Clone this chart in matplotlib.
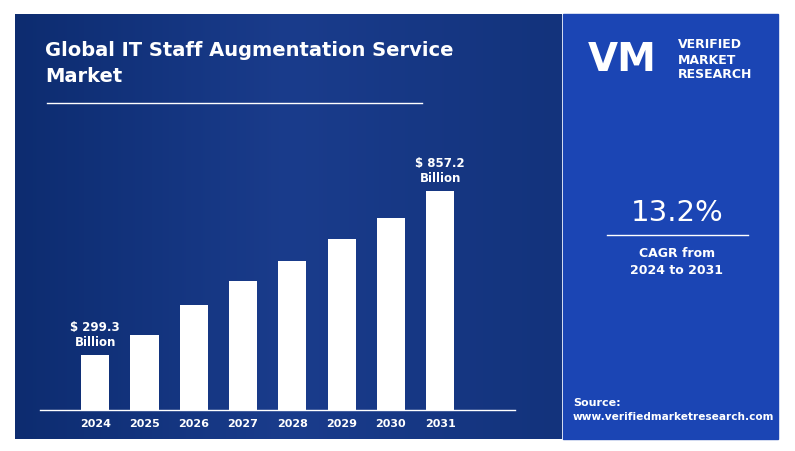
import numpy as np
import matplotlib
matplotlib.use("Agg")
import matplotlib.pyplot as plt

years = ["2024", "2025", "2026", "2027", "2028", "2029", "2030", "2031"]
values = [299.3, 367, 469, 551, 619, 694, 765, 857.2]
first_label = "$ 299.3\nBillion"
last_label = "$ 857.2\nBillion"

W, H = 795, 452
fig = plt.figure(figsize=(W / 100, H / 100), dpi=100)
fig.patch.set_facecolor("white")

# background panels
bg = fig.add_axes([0, 0, 1, 1])
bg.set_xlim(0, W)
bg.set_ylim(H, 0)
bg.axis("off")
grad = np.linspace(0, 1, 256).reshape(1, -1)
bg.imshow(grad, extent=[15, 562, 440, 15], cmap=matplotlib.colors.LinearSegmentedColormap.from_list(
    "b", ["#0d2c70", "#1a3c8c", "#13337c"]), aspect="auto", zorder=0)
bg.add_patch(plt.Rectangle((563, 15), 215, 425, color="#1b45b4", zorder=1))
bg.plot([47, 422], [104, 104], color="white", lw=1)
bg.text(45, 50, "Global IT Staff Augmentation Service", color="white", fontsize=14,
        fontweight="bold", va="center")
bg.text(45, 77, "Market", color="white", fontsize=14, fontweight="bold", va="center")
bg.text(622, 60, "VM", color="white", fontsize=28, fontweight="bold", va="center", ha="center")
bg.text(678, 45, "VERIFIED", color="white", fontsize=9, fontweight="bold", va="center")
bg.text(678, 60, "MARKET", color="white", fontsize=9, fontweight="bold", va="center")
bg.text(678, 75, "RESEARCH", color="white", fontsize=9, fontweight="bold", va="center")
bg.text(677, 213, "13.2%", color="white", fontsize=21, ha="center", va="center")
bg.plot([607, 748], [236, 236], color="white", lw=1)
bg.text(677, 262, "CAGR from\n2024 to 2031", color="white", fontsize=9, fontweight="bold",
        ha="center", va="center", linespacing=1.4)
bg.text(573, 403, "Source:", color="white", fontsize=8, fontweight="bold", va="center")
bg.text(573, 417, "www.verifiedmarketresearch.com", color="white", fontsize=7.6,
        fontweight="bold", va="center")
bg.plot([40, 515], [411, 411], color="white", lw=1)

# bar chart
ax = fig.add_axes([40 / W, (H - 411) / H, 475 / W, 219 / H])
ax.patch.set_alpha(0)
x = np.arange(len(years))
ax.bar(x, values, width=0.57, color="white", zorder=2)
ax.set_xlim(-1.12, 8.52)
ax.set_ylim(112, 857.2)
ax.set_xticks(x)
ax.set_xticklabels(years, color="white", fontsize=8, fontweight="bold")
ax.tick_params(length=0, pad=6)
ax.set_yticks([])
for s in ax.spines.values():
    s.set_visible(False)
ax.annotate(first_label, (0, values[0]), xytext=(0, 5), textcoords="offset points",
            ha="center", va="bottom", color="white", fontsize=8.5, fontweight="bold")
ax.annotate(last_label, (7, values[-1]), xytext=(0, 5), textcoords="offset points",
            ha="center", va="bottom", color="white", fontsize=8.5, fontweight="bold",
            annotation_clip=False)

fig.savefig("out.png", dpi=100)
